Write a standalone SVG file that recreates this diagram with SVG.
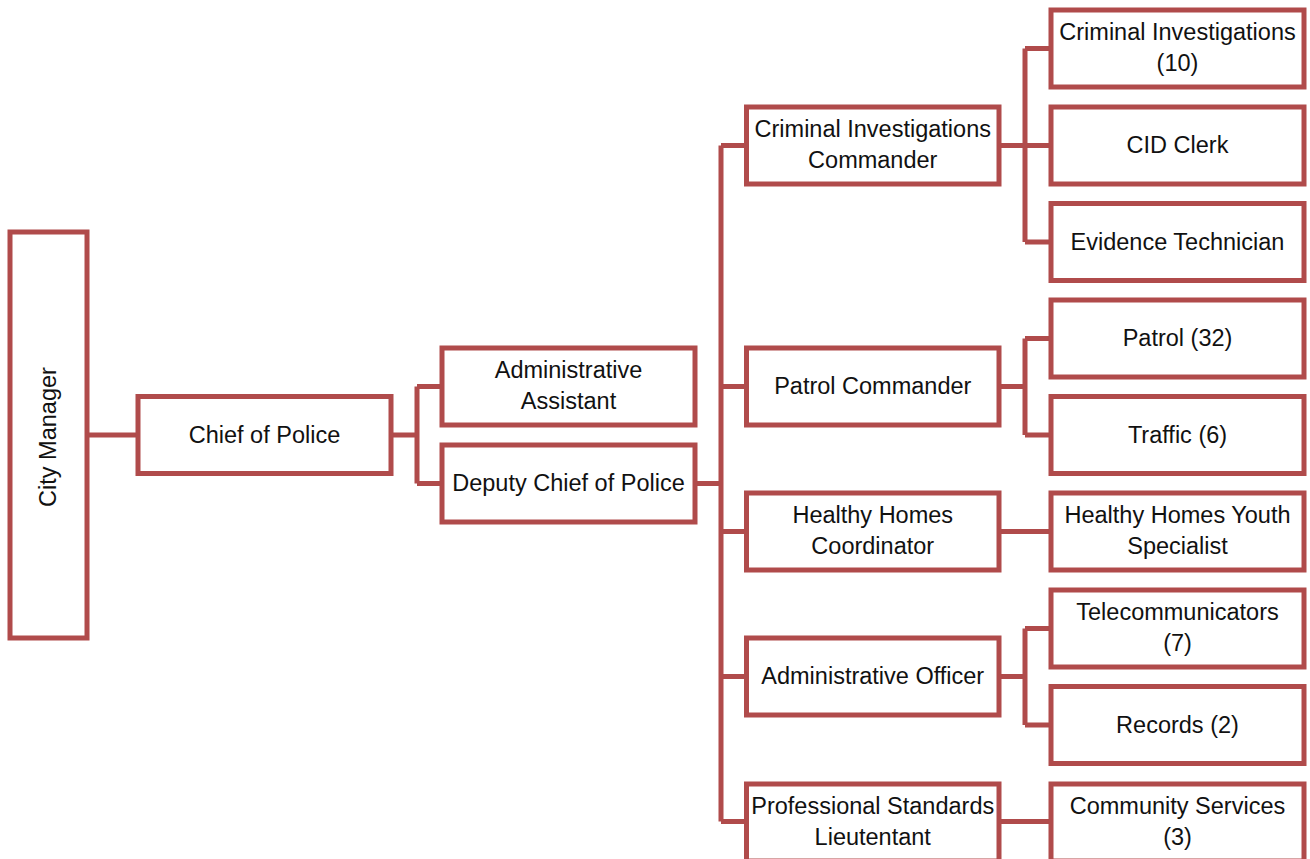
<svg xmlns="http://www.w3.org/2000/svg" width="1310" height="859" viewBox="0 0 1310 859">
  <style>
    .box { fill: #ffffff; stroke: #b04b4b; stroke-width: 5; }
    .link { fill: none; stroke: #b04b4b; stroke-width: 5; stroke-linejoin: miter; }
    text { font-family: "Liberation Sans", Arial, sans-serif; font-size: 23.5px; fill: #111111; text-anchor: middle; }
  </style>
  <rect width="1310" height="859" fill="#ffffff"/>

  <!-- connectors -->
  <g id="connectors" class="link">
    <path d="M87 435 H138"/>
    <path d="M391 435 H417 M417 386.5 V483.5 M417 386.5 H442 M417 483.5 H442"/>
    <path d="M695 483.5 H721 M721 145.5 V821.5 M721 145.5 H746.5 M721 386.5 H746.5 M721 531.5 H746.5 M721 676.5 H746.5 M721 821.5 H746.5"/>
    <path d="M999 145.5 H1025 M1025 48.5 V242 M1025 48.5 H1051 M1025 145.5 H1051 M1025 242 H1051"/>
    <path d="M999 386.5 H1025 M1025 338.5 V435 M1025 338.5 H1051 M1025 435 H1051"/>
    <path d="M999 531.5 H1051"/>
    <path d="M999 676.5 H1025 M1025 628.5 V725 M1025 628.5 H1051 M1025 725 H1051"/>
    <path d="M999 821.5 H1051"/>
  </g>

  <!-- level 0 -->
  <g id="city-manager">
    <rect class="box" x="10" y="232" width="77" height="406"/>
    <text transform="translate(56 437) rotate(-90)">City Manager</text>
  </g>

  <!-- level 1 -->
  <g id="chief-of-police">
    <rect class="box" x="138" y="396.5" width="253" height="77"/>
    <text x="264.5" y="443">Chief of Police</text>
  </g>

  <!-- level 2 -->
  <g id="administrative-assistant">
    <rect class="box" x="442" y="348" width="253" height="77"/>
    <text x="568.5" y="378">Administrative</text>
    <text x="568.5" y="409">Assistant</text>
  </g>
  <g id="deputy-chief">
    <rect class="box" x="442" y="445" width="253" height="77"/>
    <text x="568.5" y="491">Deputy Chief of Police</text>
  </g>

  <!-- level 3 -->
  <g id="criminal-investigations-commander">
    <rect class="box" x="746.5" y="107" width="252.5" height="77"/>
    <text x="872.75" y="137">Criminal Investigations</text>
    <text x="872.75" y="168">Commander</text>
  </g>
  <g id="patrol-commander">
    <rect class="box" x="746.5" y="348" width="252.5" height="77"/>
    <text x="872.75" y="394">Patrol Commander</text>
  </g>
  <g id="healthy-homes-coordinator">
    <rect class="box" x="746.5" y="493" width="252.5" height="77"/>
    <text x="872.75" y="523">Healthy Homes</text>
    <text x="872.75" y="554">Coordinator</text>
  </g>
  <g id="administrative-officer">
    <rect class="box" x="746.5" y="638" width="252.5" height="77"/>
    <text x="872.75" y="684">Administrative Officer</text>
  </g>
  <g id="professional-standards-lieutenant">
    <rect class="box" x="746.5" y="784" width="252.5" height="77"/>
    <text x="872.75" y="814">Professional Standards</text>
    <text x="872.75" y="845">Lieutentant</text>
  </g>

  <!-- level 4 -->
  <g id="criminal-investigations">
    <rect class="box" x="1051" y="10" width="253" height="77"/>
    <text x="1177.5" y="40">Criminal Investigations</text>
    <text x="1177.5" y="71">(10)</text>
  </g>
  <g id="cid-clerk">
    <rect class="box" x="1051" y="107" width="253" height="77"/>
    <text x="1177.5" y="153">CID Clerk</text>
  </g>
  <g id="evidence-technician">
    <rect class="box" x="1051" y="203.5" width="253" height="77"/>
    <text x="1177.5" y="249.5">Evidence Technician</text>
  </g>
  <g id="patrol">
    <rect class="box" x="1051" y="300" width="253" height="77"/>
    <text x="1177.5" y="346">Patrol (32)</text>
  </g>
  <g id="traffic">
    <rect class="box" x="1051" y="396.5" width="253" height="77"/>
    <text x="1177.5" y="442.5">Traffic (6)</text>
  </g>
  <g id="healthy-homes-youth-specialist">
    <rect class="box" x="1051" y="493" width="253" height="77"/>
    <text x="1177.5" y="523">Healthy Homes Youth</text>
    <text x="1177.5" y="554">Specialist</text>
  </g>
  <g id="telecommunicators">
    <rect class="box" x="1051" y="590" width="253" height="77"/>
    <text x="1177.5" y="620">Telecommunicators</text>
    <text x="1177.5" y="651">(7)</text>
  </g>
  <g id="records">
    <rect class="box" x="1051" y="686.5" width="253" height="77"/>
    <text x="1177.5" y="732.5">Records (2)</text>
  </g>
  <g id="community-services">
    <rect class="box" x="1051" y="784" width="253" height="77"/>
    <text x="1177.5" y="814">Community Services</text>
    <text x="1177.5" y="845">(3)</text>
  </g>
</svg>
